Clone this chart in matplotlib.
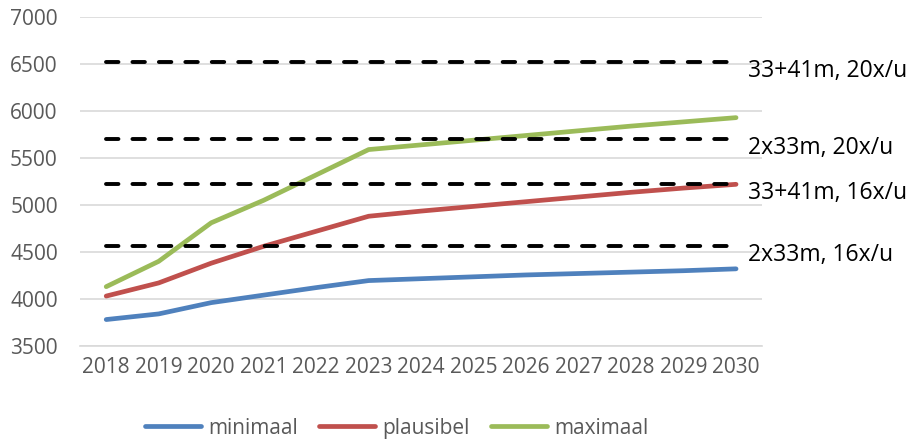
import matplotlib.pyplot as plt

# ----------------------------------
# Data
years = [str(y) for y in range(2018, 2031)]
minimaal = [3780, 3840, 3960, 4040, 4120, 4195, 4215, 4235, 4255, 4270, 4285, 4300, 4320]
plausibel = [4030, 4170, 4380, 4560, 4720, 4880, 4935, 4985, 5035, 5085, 5135, 5180, 5220]
maximaal = [4130, 4400, 4810, 5050, 5320, 5590, 5640, 5690, 5740, 5790, 5840, 5885, 5930]

capacity_levels = [6520, 5700, 5220, 4560]
capacity_labels = ["33+41m, 20x/u", "2x33m, 20x/u", "33+41m, 16x/u", "2x33m, 16x/u"]

series_colors = ["#4F81BD", "#C0504D", "#9BBB59"]
series_names = ["minimaal", "plausibel", "maximaal"]

plt.rcParams['font.family'] = ['Open Sans', 'DejaVu Sans']

fig = plt.figure(figsize=(9.14, 4.4), dpi=100)
ax = fig.add_axes([0.0875, 0.214, 0.7465, 0.747])

x = range(len(years))

# capacity lines (dashed) with their labels at the end
for level, label in zip(capacity_levels, capacity_labels):
    ax.plot(x, [level] * len(years), color='black', linewidth=2.8,
            linestyle=(0, (3.2, 3.6)), dash_capstyle='round', zorder=3)
    ax.annotate(label, xy=(len(years) - 1, level), xytext=(8.5, -6.5),
                textcoords='offset points', fontsize=16.5, color='black',
                va='center', ha='left', annotation_clip=False)

# scenario lines
for vals, col, name in zip([minimaal, plausibel, maximaal], series_colors, series_names):
    ax.plot(x, vals, color=col, linewidth=3.4, solid_capstyle='round',
            solid_joinstyle='round', label=name, zorder=2)

ax.set_xlim(-0.5, len(years) - 0.5)
ax.set_ylim(3500, 7000)
ax.set_yticks(range(3500, 7001, 500))
ax.set_xticks(list(x))
ax.set_xticklabels(years)
ax.tick_params(axis='both', length=0, labelsize=15, labelcolor='#595959')
ax.tick_params(axis='y', pad=16)
ax.tick_params(axis='x', pad=8)

ax.grid(axis='y', color='#D9D9D9', linewidth=1.2)
ax.set_axisbelow(True)
for side in ['top', 'right', 'left']:
    ax.spines[side].set_visible(False)
ax.spines['bottom'].set_color('#D9D9D9')
ax.spines['bottom'].set_linewidth(1.2)

fig.legend(loc='center', bbox_to_anchor=(0.434, 0.027), ncol=3, frameon=False,
           fontsize=15, handlelength=2.7, columnspacing=1.0, handletextpad=0.35,
           labelcolor='#595959')

fig.savefig('out.png', dpi=100)
